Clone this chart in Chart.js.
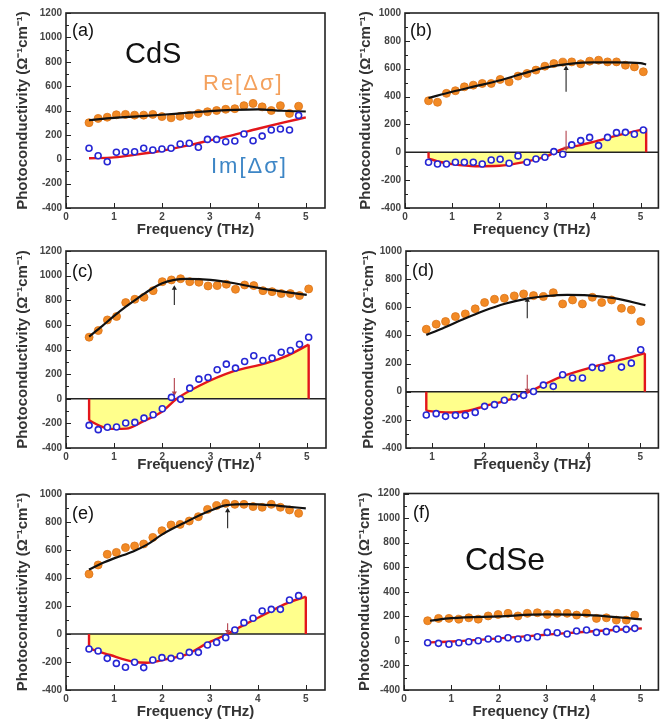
<!DOCTYPE html>
<html><head><meta charset="utf-8">
<script src="https://cdn.jsdelivr.net/npm/chart.js@4.4.0/dist/chart.umd.min.js"></script>
<style>
html,body{margin:0;padding:0;background:#fff;}
#wrap{position:relative;width:664px;height:719px;overflow:hidden;background:#fff;}
canvas{position:absolute;}
.lbl{position:absolute;font-family:"Liberation Sans",Arial,sans-serif;line-height:1;white-space:nowrap;color:#111;}
</style></head><body><div id="wrap">
<canvas id="ca"></canvas><canvas id="cb"></canvas><canvas id="cc"></canvas>
<canvas id="cd"></canvas><canvas id="ce"></canvas><canvas id="cf"></canvas>
<div class="lbl" style="left:72px;top:21px;font-size:18px;">(a)</div>
<div class="lbl" style="left:125px;top:39px;font-size:29px;">CdS</div>
<div class="lbl" style="left:203px;top:72px;font-size:22px;letter-spacing:2px;color:#f4a15d;">Re[Δσ]</div>
<div class="lbl" style="left:211px;top:155px;font-size:22px;letter-spacing:2px;color:#3d86c6;">Im[Δσ]</div>
<div class="lbl" style="left:410px;top:21px;font-size:18px;">(b)</div>
<div class="lbl" style="left:72px;top:262px;font-size:18px;">(c)</div>
<div class="lbl" style="left:412px;top:261px;font-size:18px;">(d)</div>
<div class="lbl" style="left:72px;top:504px;font-size:18px;">(e)</div>
<div class="lbl" style="left:413px;top:503px;font-size:18px;">(f)</div>
<div class="lbl" style="left:465px;top:543px;font-size:32px;">CdSe</div>
</div>
<script>
// ---------- tick labels ----------
const xTicks = [0, 1, 2, 3, 4, 5];
const xTicksD = [1, 2, 3, 4, 5];
const yTicks1200 = [-400, -200, 0, 200, 400, 600, 800, 1000, 1200];
const yTicks1000 = [-400, -200, 0, 200, 400, 600, 800, 1000];

// ---------- (a) CdS ----------
const freqA = [0.48,0.67,0.86,1.05,1.24,1.43,1.62,1.81,2.00,2.19,2.38,2.57,2.76,2.95,3.14,3.33,3.52,3.71,3.90,4.09,4.28,4.47,4.66,4.85];
const reA = [300,335,345,365,368,362,362,368,350,340,352,360,376,390,400,410,415,440,458,430,400,440,376,435];
const imA = [90,29,-20,57,62,62,90,76,84,90,125,131,98,163,163,144,150,207,152,190,240,248,240,360];
const fitReXA = [0.48,1.0,1.5,2.0,2.5,3.0,3.5,4.0,4.5,5.0];
const fitReA = [320,340,352,365,380,395,405,410,398,392];
const fitImXA = [0.48,1.0,1.5,2.0,2.5,3.0,3.5,4.0,4.5,5.0];
const fitImA = [8,15,40,70,110,155,200,250,298,343];

// ---------- (b) ----------
const freqB = [0.50,0.69,0.88,1.07,1.26,1.45,1.64,1.83,2.02,2.21,2.40,2.59,2.78,2.97,3.16,3.35,3.54,3.73,3.92,4.11,4.30,4.49,4.68,4.87,5.06];
const reB = [370,359,423,442,470,482,494,494,523,506,547,566,590,618,637,647,649,635,654,661,649,649,625,613,578];
const imB = [-71,-84,-84,-71,-71,-71,-84,-55,-50,-79,-26,-71,-48,-36,5,-14,53,84,107,48,107,141,143,129,160];
const fitReXB = [0.5,1.0,1.5,2.0,2.5,3.0,3.5,4.0,4.5,5.0,5.12];
const fitReB = [390,435,475,515,565,610,635,645,645,640,630];
const fitImXB = [0.5,0.75,1.0,1.5,2.0,2.5,3.0,3.2,3.4,3.7,4.0,4.5,5.12];
const fitImB = [-45,-70,-85,-100,-97,-72,-30,3,30,50,75,120,170];
const arrowB = [3.42, 434, 601, 155, 29]; // [freq, Re from, Re to, Im from, Im to]

// ---------- (c) ----------
const freqC = [0.48,0.67,0.86,1.05,1.24,1.43,1.62,1.81,2.00,2.19,2.38,2.57,2.76,2.95,3.14,3.33,3.52,3.71,3.90,4.09,4.28,4.47,4.66,4.85,5.04];
const reC = [500,554,640,668,781,808,824,878,951,965,975,951,946,916,919,930,889,924,919,878,870,854,854,838,892];
const imC = [-216,-251,-232,-230,-197,-192,-157,-130,-81,11,-5,86,159,173,235,281,249,303,349,311,330,378,392,443,500];
const fitReXC = [0.48,0.75,1.0,1.25,1.5,1.75,2.0,2.25,2.5,3.0,3.5,4.0,4.5,5.0];
const fitReC = [505,590,673,750,820,885,938,965,973,965,938,900,870,843];
const fitImXC = [0.48,0.7,0.85,1.0,1.25,1.6,2.0,2.3,2.78,3.47,4.16,4.6,5.04];
const fitImC = [-176,-220,-240,-245,-243,-184,-103,0,108,222,289,350,440];
const arrowC = [2.25, 762, 897, 168, 46];

// ---------- (d) ----------
const freqD = [0.89,1.08,1.26,1.45,1.64,1.83,2.01,2.20,2.39,2.58,2.76,2.95,3.14,3.33,3.51,3.70,3.89,4.08,4.26,4.45,4.64,4.83,5.01];
const reD = [444,480,499,534,553,589,634,657,664,681,695,683,676,704,624,652,624,671,634,652,593,582,499];
const imD = [-165,-156,-175,-168,-168,-147,-104,-92,-61,-38,-26,2,47,38,121,97,97,173,168,239,175,203,298];
const fitReXD = [0.89,1.2,1.6,2.0,2.4,2.83,3.2,3.6,4.0,4.5,5.1];
const fitReD = [404,450,515,575,625,662,680,688,685,665,615];
const fitImXD = [0.89,1.1,1.4,1.7,2.0,2.5,2.87,3.2,3.5,4.13,4.75,5.09];
const fitImD = [-135,-143,-148,-135,-104,-55,0,60,109,180,239,274];
const arrowD = [2.83, 522, 650, 121, 10];

// ---------- (e) ----------
const freqE = [0.48,0.67,0.86,1.05,1.24,1.43,1.62,1.81,2.00,2.19,2.38,2.57,2.76,2.95,3.14,3.33,3.52,3.71,3.90,4.09,4.28,4.47,4.66,4.85];
const reE = [428,493,569,583,617,629,643,690,738,779,783,807,838,890,917,933,926,926,910,905,926,905,886,862];
const imE = [-107,-121,-174,-210,-238,-202,-240,-186,-169,-174,-157,-131,-131,-79,-60,-26,29,81,112,164,176,176,243,274];
const fitReXE = [0.48,0.75,1.0,1.4,1.7,2.0,2.5,3.0,3.35,3.8,4.3,4.6,5.0];
const fitReE = [460,505,540,590,640,710,800,880,920,928,920,910,898];
const fitImXE = [0.48,0.92,1.41,1.69,2.1,2.52,2.94,3.35,3.77,4.19,4.6,5.0];
const fitImE = [-102,-150,-198,-205,-179,-145,-67,-2,76,148,219,267];
const arrowE = [3.37, 755, 880, 76, 17];

// ---------- (f) CdSe ----------
const freqF = [0.50,0.73,0.95,1.16,1.37,1.57,1.78,1.99,2.20,2.41,2.61,2.82,3.03,3.24,3.45,3.65,3.86,4.07,4.28,4.49,4.70,4.88];
const reF = [164,183,183,177,188,177,203,215,224,203,224,229,215,224,224,210,224,183,188,169,169,210];
const imF = [-15,-20,-28,-15,-7,1,15,15,26,15,26,34,69,66,56,80,88,69,75,96,94,102];
const fitReXF = [0.55,1.0,2.0,3.0,4.0,5.03];
const fitReF = [164,185,200,215,208,175];
const fitImXF = [0.5,1.0,2.0,3.0,4.0,5.03];
const fitImF = [-12,-5,20,50,78,102];

// ---------- styling ----------
const FONT = '"Liberation Sans", Arial, Helvetica, sans-serif';
const ORANGE = '#f28a25', ORANGE_EDGE = '#dc7418', BLUE = '#2626d4', BLACK = '#111111';
const RED = '#e3161b', YELLOW = '#ffff8c', ARROW_RED = '#b3414c';
const Y_TITLE = 'Photoconductivity (\u03A9\u207B\u00B9cm\u207B\u00B9)';

function pts(xs, ys) { return xs.map((x, i) => ({ x: x, y: ys[i] })); }

const framePlugin = {
  id: 'frame',
  beforeDatasetsDraw(chart, args, opts) {
    if (!opts.zero) return;
    const { ctx, chartArea: a, scales: { y } } = chart;
    const py = y.getPixelForValue(0);
    ctx.save();
    ctx.strokeStyle = '#222'; ctx.lineWidth = 1.4;
    ctx.beginPath(); ctx.moveTo(a.left, py); ctx.lineTo(a.right, py); ctx.stroke();
    ctx.restore();
  },
  afterDraw(chart) {
    const { ctx, chartArea: a, scales: { x, y } } = chart;
    ctx.save();
    ctx.strokeStyle = '#222';
    ctx.lineWidth = 1;
    const yt = y.ticks.map(t => t.value);
    ctx.beginPath();
    yt.forEach((v, i) => {
      const py = Math.round(y.getPixelForValue(v)) + 0.5;
      ctx.moveTo(a.left, py); ctx.lineTo(a.left + 5, py);
      if (i < yt.length - 1) {
        const pm = Math.round(y.getPixelForValue((v + yt[i + 1]) / 2)) + 0.5;
        ctx.moveTo(a.left, pm); ctx.lineTo(a.left + 3, pm);
      }
    });
    x.ticks.forEach(t => {
      const px = Math.round(x.getPixelForValue(t.value)) + 0.5;
      ctx.moveTo(px, a.bottom); ctx.lineTo(px, a.bottom - 5);
    });
    ctx.stroke();
    ctx.lineWidth = 1.6;
    ctx.strokeRect(a.left, a.top, a.right - a.left, a.bottom - a.top);
    ctx.restore();
  }
};

function build(id, g, p) {
  const cv = document.getElementById(id);
  cv.width = g.w; cv.height = g.h;
  cv.style.left = g.x + 'px'; cv.style.top = g.y + 'px';
  cv.style.width = g.w + 'px'; cv.style.height = g.h + 'px';
  const ds = [];
  ds.push({ type: 'line', data: pts(p.fitImX, p.fitIm), borderColor: RED, borderWidth: 2.4, pointRadius: 0,
            cubicInterpolationMode: 'monotone', fill: p.fill ? 'origin' : false, backgroundColor: YELLOW, order: 6 });
  if (p.fill) {
    const n = p.fitImX.length - 1;
    ds.push({ type: 'line', data: [{ x: p.fitImX[0], y: 0 }, { x: p.fitImX[0], y: p.fitIm[0] }],
              borderColor: RED, borderWidth: 2.4, pointRadius: 0, fill: false, order: 6 });
    ds.push({ type: 'line', data: [{ x: p.fitImX[n], y: 0 }, { x: p.fitImX[n], y: p.fitIm[n] }],
              borderColor: RED, borderWidth: 2.4, pointRadius: 0, fill: false, order: 6 });
  }
  ds.push({ type: 'scatter', data: pts(p.freq, p.re), pointRadius: 4, backgroundColor: ORANGE,
            borderColor: ORANGE_EDGE, borderWidth: 0.8, order: 5 });
  ds.push({ type: 'line', data: pts(p.fitReX, p.fitRe), borderColor: BLACK, borderWidth: 2.2, pointRadius: 0,
            cubicInterpolationMode: 'monotone', fill: false, order: 4 });
  if (p.arrow) {
    const A = p.arrow;
    ds.push({ type: 'line', data: [{ x: A[0], y: A[1] }, { x: A[0], y: A[2] }], borderColor: '#222', borderWidth: 1.1,
              pointRadius: [0, 3], pointStyle: 'triangle', pointRotation: 0, pointBackgroundColor: '#222',
              pointBorderWidth: 0, fill: false, order: 3 });
    ds.push({ type: 'line', data: [{ x: A[0], y: A[3] }, { x: A[0], y: A[4] }], borderColor: ARROW_RED, borderWidth: 1.1,
              pointRadius: [0, 3], pointStyle: 'triangle', pointRotation: 180, pointBackgroundColor: ARROW_RED,
              pointBorderWidth: 0, fill: false, order: 3 });
  }
  ds.push({ type: 'scatter', data: pts(p.freq, p.im), pointRadius: 3, backgroundColor: '#ffffff',
            borderColor: BLUE, borderWidth: 1.6, order: 1 });

  const tickFont = { family: FONT, size: 10, weight: 'bold' };
  new Chart(cv, {
    type: 'scatter',
    data: { datasets: ds },
    options: {
      responsive: false, animation: false, devicePixelRatio: 1,
      layout: { padding: { left: 0, top: g.t, right: g.w - g.r, bottom: 0 } },
      plugins: { legend: { display: false }, tooltip: { enabled: false },
                 filler: { drawTime: 'beforeDatasetsDraw' }, frame: { zero: p.fill } },
      scales: {
        x: {
          type: 'linear', min: p.xmin, max: p.xmax,
          afterBuildTicks: s => { s.ticks = p.xTicks.map(v => ({ value: v })); },
          afterFit: s => { s.height = g.h - g.b; },
          grid: { display: false, drawTicks: false }, border: { display: false },
          ticks: { font: tickFont, color: '#444', padding: 3, maxRotation: 0, autoSkip: false, callback: v => String(v) },
          title: { display: true, text: 'Frequency (THz)', color: '#333',
                   font: { family: FONT, size: 15, weight: 'bold', lineHeight: 1 }, padding: { top: 0, bottom: g.xtp } }
        },
        y: {
          type: 'linear', min: p.yTicks[0], max: p.yTicks[p.yTicks.length - 1],
          afterBuildTicks: s => { s.ticks = p.yTicks.map(v => ({ value: v })); },
          afterFit: s => { s.width = g.l; },
          grid: { display: false, drawTicks: false }, border: { display: false },
          ticks: { font: tickFont, color: '#444', padding: 4, autoSkip: false, callback: v => String(v) },
          title: { display: true, text: Y_TITLE, color: '#333',
                   font: { family: FONT, size: 15, weight: 'bold', lineHeight: 1 }, padding: { top: g.ytp, bottom: 0 } }
        }
      }
    },
    plugins: [framePlugin]
  });
}

build('ca', { x: 0, y: 0, w: 332, h: 240, l: 66, t: 13, r: 325, b: 208, xtp: 2.5, ytp: 15.5 },
  { freq: freqA, re: reA, im: imA, fitReX: fitReXA, fitRe: fitReA, fitImX: fitImXA, fitIm: fitImA,
    fill: false, xmin: 0, xmax: 5.4, xTicks: xTicks, yTicks: yTicks1200 });
build('cb', { x: 332, y: 0, w: 332, h: 240, l: 73, t: 13, r: 331.5, b: 208, xtp: 2.5, ytp: 26 },
  { freq: freqB, re: reB, im: imB, fitReX: fitReXB, fitRe: fitReB, fitImX: fitImXB, fitIm: fitImB, arrow: arrowB,
    fill: true, xmin: 0, xmax: 5.38, xTicks: xTicks, yTicks: yTicks1000 });
build('cc', { x: 0, y: 236, w: 332, h: 240, l: 66, t: 15, r: 326, b: 212, xtp: 3.5, ytp: 15.5 },
  { freq: freqC, re: reC, im: imC, fitReX: fitReXC, fitRe: fitReC, fitImX: fitImXC, fitIm: fitImC, arrow: arrowC,
    fill: true, xmin: 0, xmax: 5.4, xTicks: xTicks, yTicks: yTicks1200 });
build('cd', { x: 332, y: 236, w: 332, h: 240, l: 74, t: 15, r: 331.5, b: 212, xtp: 3.5, ytp: 29.5 },
  { freq: freqD, re: reD, im: imD, fitReX: fitReXD, fitRe: fitReD, fitImX: fitImXD, fitIm: fitImD, arrow: arrowD,
    fill: true, xmin: 0.5, xmax: 5.35, xTicks: xTicksD, yTicks: yTicks1000 });
build('ce', { x: 0, y: 476, w: 332, h: 243, l: 66, t: 18, r: 325, b: 214, xtp: 0, ytp: 15.5 },
  { freq: freqE, re: reE, im: imE, fitReX: fitReXE, fitRe: fitReE, fitImX: fitImXE, fitIm: fitImE, arrow: arrowE,
    fill: true, xmin: 0, xmax: 5.4, xTicks: xTicks, yTicks: yTicks1000 });
build('cf', { x: 332, y: 476, w: 332, h: 243, l: 72, t: 17.5, r: 331.5, b: 214, xtp: 0, ytp: 25.5 },
  { freq: freqF, re: reF, im: imF, fitReX: fitReXF, fitRe: fitReF, fitImX: fitImXF, fitIm: fitImF,
    fill: false, xmin: 0, xmax: 5.38, xTicks: xTicks, yTicks: yTicks1200 });
</script>
</body></html>
